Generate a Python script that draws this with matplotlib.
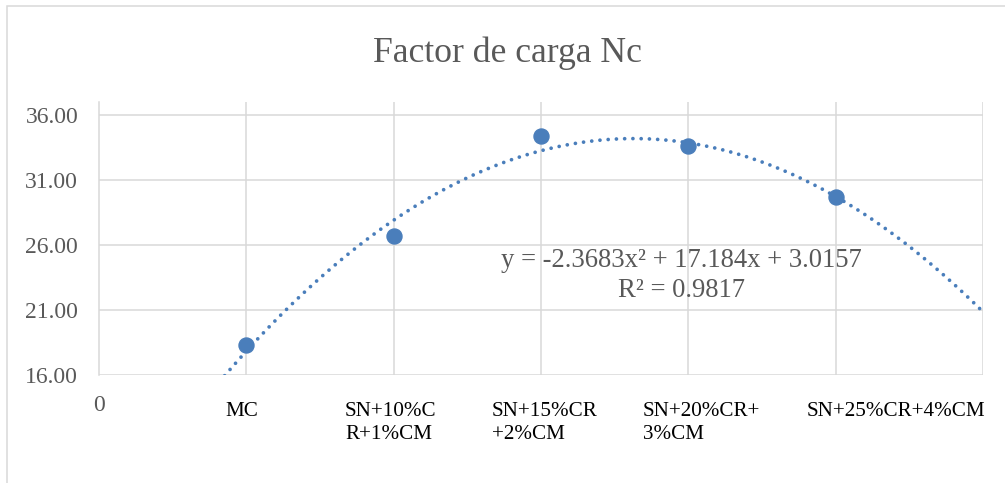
import numpy as np
import matplotlib
matplotlib.use("Agg")
import matplotlib.pyplot as plt
from matplotlib.patches import Rectangle
import matplotlib.transforms as mtransforms

# ---- data ----
categories = ["MC", "SN+10%C\nR+1%CM", "SN+15%CR\n+2%CM", "SN+20%CR+\n3%CM", "SN+25%CR+4%CM"]
cat_index = [1, 2, 3, 4, 5]
nc_values = [18.3, 26.7, 34.4, 33.6, 29.7]
trend_coeffs = [-2.3683, 17.184, 3.0157]
r_squared = 0.9817
y_ticks = [16, 21, 26, 31, 36]
title = "Factor de carga Nc"

plt.rcParams['font.family'] = ['Liberation Serif', 'DejaVu Serif']

W, H = 1005, 483
fig = plt.figure(figsize=(W / 100, H / 100), dpi=100)

# chart border
fig.patches.append(Rectangle((7 / W, -0.2), 1.2, 1.2 - 6 / H, transform=fig.transFigure,
                             fill=False, edgecolor="#D9D9D9", linewidth=1.1))

left, right, bottom, top = 99, 983, 375, 102
ax = fig.add_axes([left / W, 1 - bottom / H, (right - left) / W, (bottom - top) / H])
ax.set_xlim(0, 6)
ax.set_ylim(16, 37)

grid_c = "#D9D9D9"
for s in ["top", "right", "bottom"]:
    ax.spines[s].set_visible(False)
ax.spines["left"].set_color(grid_c)
ax.spines["left"].set_linewidth(1.1)

for yv in y_ticks:
    ax.axhline(yv, color=grid_c, lw=1.1, zorder=0)
for xv in range(1, 7):
    ax.axvline(xv, color=grid_c, lw=1.1, zorder=0)

ax.set_yticks(y_ticks)
ax.set_yticklabels([f"{v:.2f}" for v in y_ticks])
ax.tick_params(axis="y", length=0, pad=15, labelsize=17, labelcolor="#595959")
ax.set_xticks([])

blue = "#4A7EBB"
xs = np.linspace(0.5, 6, 400)
ys = np.polyval(trend_coeffs, xs)
ax.plot(xs, ys, color=blue, lw=2.7, linestyle=(0, (0.001, 2.2)),
        dash_capstyle="round", zorder=2)
ax.plot(cat_index, nc_values, "o", color=blue, markersize=10.8, zorder=3, clip_on=False)

# x labels
trans = mtransforms.blended_transform_factory(ax.transData, fig.transFigure)
ax.text(0, 1 - 411 / H, "0", transform=trans, ha="center", va="baseline",
        fontsize=17, color="#595959")
label_left_px = [225, 345, 492, 643, 807]
for lab, lx in zip(categories, label_left_px):
    for i, line in enumerate(lab.split("\n")):
        fig.text(lx / W, 1 - (416 + 23.3 * i) / H, line, ha="left", va="baseline",
                 fontsize=15.2, color="black")

# title
fig.text(507 / W, 1 - 61.7 / H, title, ha="center", va="baseline", fontsize=25.7, color="#595959")

# equation
a, b, c = trend_coeffs
eq_lines = [f"y = {a:.4f}x² + {b:.3f}x + {c:.4f}", f"R² = {r_squared:.4f}"]
for i, line in enumerate(eq_lines):
    fig.text(681 / W, 1 - (266.7 + 30 * i) / H, line, ha="center", va="baseline",
             fontsize=19.2, color="#595959")

fig.savefig("out.png", dpi=100)
